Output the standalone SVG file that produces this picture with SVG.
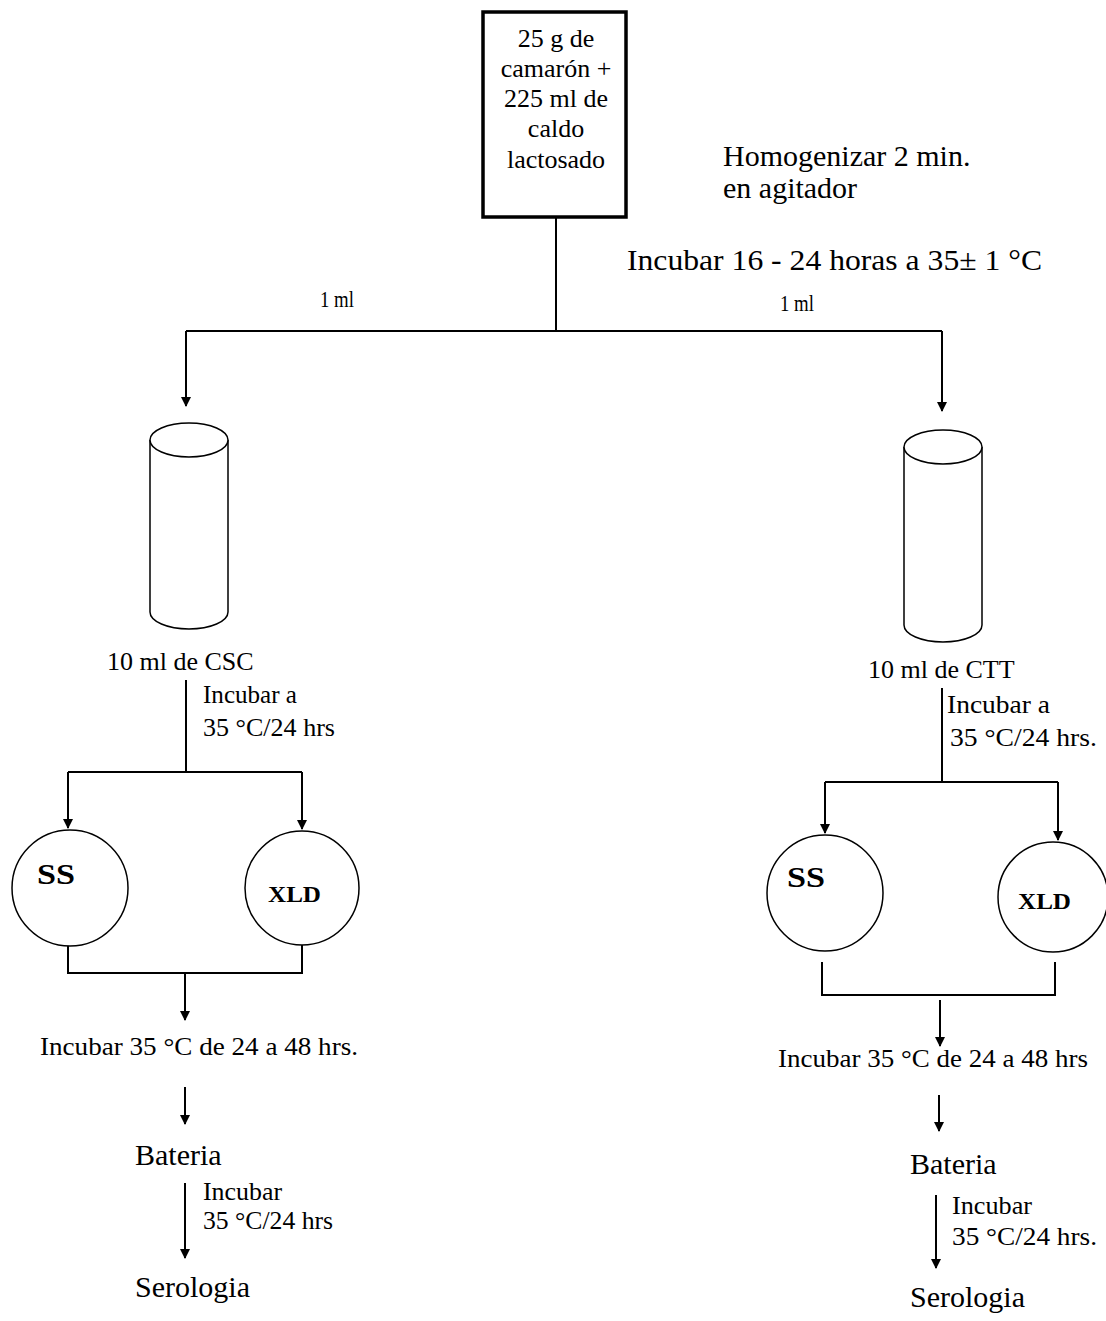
<svg xmlns="http://www.w3.org/2000/svg" width="1106" height="1321" viewBox="0 0 1106 1321">
<defs>
<marker id="ah" viewBox="0 0 10 10" refX="9" refY="5" markerWidth="10" markerHeight="10" markerUnits="userSpaceOnUse" orient="auto">
<path d="M0,0 L10,5 L0,10 z" fill="#000"/>
</marker>
<style>
text{font-family:"Liberation Serif","Times New Roman",serif;fill:#000}
.l{fill:none;stroke:#000;stroke-width:2}
.a{fill:none;stroke:#000;stroke-width:2;marker-end:url(#ah)}
.s{fill:#fff;stroke:#000;stroke-width:1.5}
.big{font-size:30px}
.lab{font-size:30px}
.med{font-size:26px}
.one{font-size:24px}
.sm{font-size:25px}
.bx{font-size:26px;text-anchor:middle}
.b1{font-size:29px;font-weight:bold}
.b2{font-size:24px;font-weight:bold}
</style>
</defs>
<rect width="1106" height="1321" fill="#fff"/>

<g id="start">
<rect x="483" y="12" width="143" height="205" fill="#fff" stroke="#000" stroke-width="3.5"/>
<text class="bx" x="556" y="47">25 g de</text>
<text class="bx" x="556" y="77">camarón +</text>
<text class="bx" x="556" y="107">225 ml de</text>
<text class="bx" x="556" y="137">caldo</text>
<text class="bx" x="556" y="168">lactosado</text>
</g>
<g id="note-homog">
<text class="big" x="723" y="166">Homogenizar 2 min.</text>
<text class="big" x="723" y="198">en agitador</text>
</g>
<g id="note-incubar">
<text class="big" x="627" y="270" textLength="415" lengthAdjust="spacingAndGlyphs">Incubar 16 - 24 horas a 35±  1 °C</text>
</g>
<g id="label-1ml-left"><text class="one" x="320" y="307" textLength="34" lengthAdjust="spacingAndGlyphs">1 ml</text></g>
<g id="label-1ml-right"><text class="one" x="780" y="311" textLength="34" lengthAdjust="spacingAndGlyphs">1 ml</text></g>

<g id="tube-csc">
<path class="s" d="M150,440 L150,612 A39,17 0 0 0 228,612 L228,440"/>
<ellipse class="s" cx="189" cy="440" rx="39" ry="17"/>
<text class="med" x="107" y="670">10 ml de CSC</text>
</g>
<g id="tube-ctt">
<path class="s" d="M904,447 L904,625 A39,17 0 0 0 982,625 L982,447"/>
<ellipse class="s" cx="943" cy="447" rx="39" ry="17"/>
<text class="med" x="868" y="678">10 ml de CTT</text>
</g>

<g id="ss-left">
<circle class="s" cx="70" cy="888" r="58"/>
<text class="b1" x="37" y="884" textLength="38" lengthAdjust="spacingAndGlyphs">SS</text>
</g>
<g id="xld-left">
<circle class="s" cx="302" cy="888" r="57"/>
<text class="b2" x="268" y="902" textLength="53" lengthAdjust="spacingAndGlyphs">XLD</text>
</g>
<g id="ss-right">
<circle class="s" cx="825" cy="893" r="58"/>
<text class="b1" x="787" y="887" textLength="38" lengthAdjust="spacingAndGlyphs">SS</text>
</g>
<g id="xld-right">
<circle class="s" cx="1053" cy="897" r="55"/>
<text class="b2" x="1018" y="909" textLength="53" lengthAdjust="spacingAndGlyphs">XLD</text>
</g>

<g id="step-left">
<text class="sm" x="203" y="703" textLength="94" lengthAdjust="spacingAndGlyphs">Incubar a</text>
<text class="sm" x="203" y="736" textLength="132" lengthAdjust="spacingAndGlyphs">35 °C/24 hrs</text>
<text class="med" x="40" y="1055" textLength="318" lengthAdjust="spacingAndGlyphs">Incubar 35 °C de 24 a 48 hrs.</text>
<text class="lab" x="135" y="1165">Bateria</text>
<text class="sm" x="203" y="1200" textLength="79" lengthAdjust="spacingAndGlyphs">Incubar</text>
<text class="sm" x="203" y="1229" textLength="130" lengthAdjust="spacingAndGlyphs">35 °C/24 hrs</text>
<text class="lab" x="135" y="1297">Serologia</text>
</g>
<g id="step-right">
<text class="sm" x="947" y="713" textLength="103" lengthAdjust="spacingAndGlyphs">Incubar a</text>
<text class="sm" x="950" y="746" textLength="147" lengthAdjust="spacingAndGlyphs">35 °C/24 hrs.</text>
<text class="med" x="778" y="1067" textLength="310" lengthAdjust="spacingAndGlyphs">Incubar 35 °C de 24 a 48 hrs</text>
<text class="lab" x="910" y="1174">Bateria</text>
<text class="sm" x="952" y="1214" textLength="80" lengthAdjust="spacingAndGlyphs">Incubar</text>
<text class="sm" x="952" y="1245" textLength="145" lengthAdjust="spacingAndGlyphs">35 °C/24 hrs.</text>
<text class="lab" x="910" y="1307">Serologia</text>
</g>

<g id="connectors">
<path class="l" d="M556,217 L556,331"/>
<path class="l" d="M186,331 L942,331"/>
<path class="a" d="M186,331 L186,406"/>
<path class="a" d="M942,331 L942,411"/>

<path class="l" d="M186,680 L186,772"/>
<path class="l" d="M68,772 L302,772"/>
<path class="a" d="M68,772 L68,828"/>
<path class="a" d="M302,772 L302,829"/>
<path class="l" d="M68,946 L68,973 L302,973 L302,945"/>
<path class="a" d="M185,973 L185,1020"/>
<path class="a" d="M185,1087 L185,1124"/>
<path class="a" d="M185,1183 L185,1258"/>

<path class="l" d="M942,688 L942,782"/>
<path class="l" d="M825,782 L1058,782"/>
<path class="a" d="M825,782 L825,833"/>
<path class="a" d="M1058,782 L1058,840"/>
<path class="l" d="M822,962 L822,995 L1055,995 L1055,962"/>
<path class="a" d="M940,1000 L940,1046"/>
<path class="a" d="M939,1095 L939,1131"/>
<path class="a" d="M936,1195 L936,1268"/>
</g>
</svg>
